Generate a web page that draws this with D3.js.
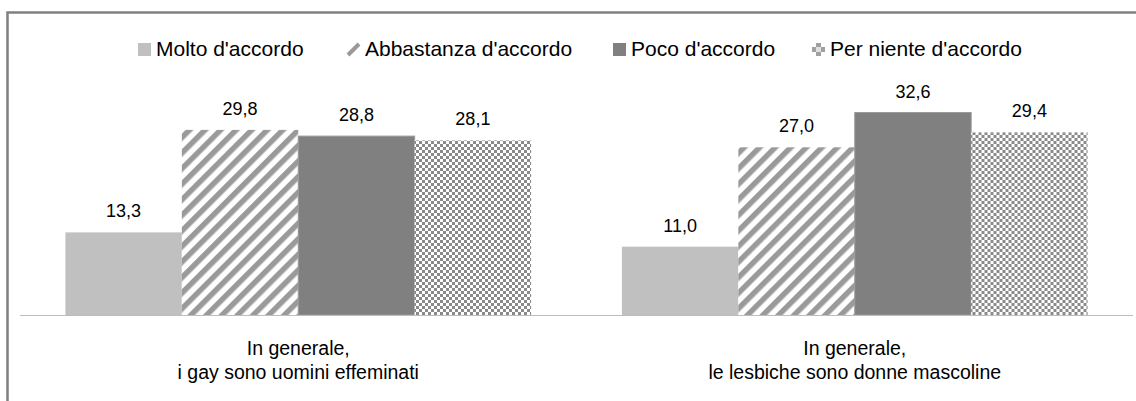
<!DOCTYPE html>
<html>
<head>
<meta charset="utf-8">
<script src="https://cdn.jsdelivr.net/npm/d3@7"></script>
<style>
  body { margin: 0; background: #fff; }
  text { font-family: "Liberation Sans", Arial, sans-serif; fill: #000; }
</style>
</head>
<body>
<div id="chart"></div>
<script>
// data
var categories = ["In generale,\ni gay sono uomini effeminati", "In generale,\nle lesbiche sono donne mascoline"];
var series = ["Molto d'accordo", "Abbastanza d'accordo", "Poco d'accordo", "Per niente d'accordo"];
var molto = [13.3, 11.0];
var abbastanza = [29.8, 27.0];
var poco = [28.8, 32.6];
var perNiente = [28.1, 29.4];
var values = [molto, abbastanza, poco, perNiente];

var W = 1136, H = 401;
var svg = d3.select("#chart").append("svg")
    .attr("width", W)
    .attr("height", H);

// patterns
var defs = svg.append("defs");
var stripes = defs.append("pattern")
    .attr("id", "stripes")
    .attr("patternUnits", "userSpaceOnUse")
    .attr("width", 11).attr("height", 11)
    .attr("patternTransform", "rotate(45)");
stripes.append("rect").attr("width", 11).attr("height", 11).attr("fill", "#fff");
stripes.append("rect").attr("width", 5.5).attr("height", 11).attr("fill", "#9a9a9a");

var checker = defs.append("pattern")
    .attr("id", "checker")
    .attr("patternUnits", "userSpaceOnUse")
    .attr("width", 6).attr("height", 6);
checker.append("rect").attr("width", 6).attr("height", 6).attr("fill", "#fff");
checker.append("rect").attr("width", 3).attr("height", 3).attr("fill", "#8a8a8a");
checker.append("rect").attr("x", 3).attr("y", 3).attr("width", 3).attr("height", 3).attr("fill", "#8a8a8a");

var fills = ["#c0c0c0", "url(#stripes)", "#808080", "url(#checker)"];

// frame (runs off the right and bottom of the window)
svg.append("rect")
    .attr("x", 7.5).attr("y", 12.5)
    .attr("width", W + 20).attr("height", H + 20)
    .attr("fill", "none")
    .attr("stroke", "#808080")
    .attr("stroke-width", 2.5);

// scales
var x0 = d3.scaleBand()
    .domain(categories)
    .range([20, 1133])
    .padding(0);

var x1 = d3.scaleBand()
    .domain(series)
    .range([0, x0.bandwidth()])
    .paddingInner(0)
    .paddingOuter(0.39);

var y = d3.scaleLinear()
    .domain([0, 35])
    .range([315, 97.6]);

// bars
var groups = svg.append("g").selectAll("g")
    .data(categories)
    .enter().append("g")
    .attr("transform", function(d) { return "translate(" + x0(d) + ",0)"; });

groups.selectAll("rect")
    .data(function(d, i) { return series.map(function(s, j) { return {s: s, v: values[j][i], j: j}; }); })
    .enter().append("rect")
    .attr("x", function(d) { return x1(d.s); })
    .attr("y", function(d) { return y(d.v); })
    .attr("width", x1.bandwidth())
    .attr("height", function(d) { return y(0) - y(d.v); })
    .attr("fill", function(d) { return fills[d.j]; })
    .attr("stroke", function(d) { return d.j == 2 ? "#9a9a9a" : "none"; })
    .attr("stroke-width", 1);

// value labels
groups.selectAll("text")
    .data(function(d, i) { return series.map(function(s, j) { return {s: s, v: values[j][i]}; }); })
    .enter().append("text")
    .attr("x", function(d) { return x1(d.s) + x1.bandwidth() / 2; })
    .attr("y", function(d) { return y(d.v) - 15; })
    .attr("text-anchor", "middle")
    .style("font-size", "18px")
    .text(function(d) { return d3.format(".1f")(d.v).replace(".", ","); });

// baseline
svg.append("line")
    .attr("x1", 20).attr("x2", 1133)
    .attr("y1", y(0) + 0.5).attr("y2", y(0) + 0.5)
    .attr("stroke", "#bdbdbd")
    .attr("stroke-width", 1.2);

// category labels
var cat = svg.append("g").selectAll("text")
    .data(categories)
    .enter().append("text")
    .attr("text-anchor", "middle")
    .style("font-size", "19.5px")
    .attr("transform", function(d) { return "translate(" + (x0(d) + x0.bandwidth() / 2) + ",355)"; });
cat.selectAll("tspan")
    .data(function(d) { return d.split("\n"); })
    .enter().append("tspan")
    .attr("x", 0)
    .attr("dy", function(d, i) { return i ? 24 : 0; })
    .text(function(d) { return d; });

// legend
var legendX = [138, 347, 613, 812];
var legend = svg.append("g").selectAll("g")
    .data(series)
    .enter().append("g")
    .attr("transform", function(d, i) { return "translate(" + legendX[i] + ",43)"; });

legend.each(function(d, i) {
  var g = d3.select(this);
  if (i == 1) {
    // single diagonal stroke like the reference swatch
    g.append("line")
      .attr("x1", 1).attr("y1", 12).attr("x2", 12).attr("y2", 1)
      .attr("stroke", "#9a9a9a")
      .attr("stroke-width", 4);
  } else if (i == 3) {
    // small plus-shaped checker sample
    g.append("path")
      .attr("d", "M4,0h5v4h4v5h-4v4h-5v-4h-4v-5h4z")
      .attr("fill", "#a0a0a0");
    g.append("rect")
      .attr("x", 4).attr("y", 4).attr("width", 5).attr("height", 5)
      .attr("fill", "#e0e0e0");
  } else {
    g.append("rect")
      .attr("width", 13).attr("height", 13)
      .attr("fill", fills[i]);
  }
});

legend.append("text")
    .attr("x", 18).attr("y", 13)
    .style("font-size", "21px")
    .text(function(d) { return d; });
</script>
</body>
</html>
